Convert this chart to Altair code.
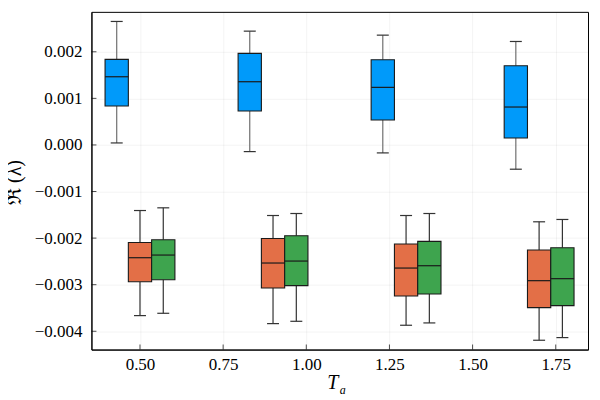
import altair as alt
import pandas as pd

# ---- data ----
Ta = [0.5, 0.9, 1.3, 1.7]
series = ["s1", "s2", "s3"]
fill_colors = ["#009AFA", "#E36F47", "#3EA44E"]
whisker_colors = ["#707070", "#333333", "#333333"]

# five-number summaries per series (lower whisker, q1, median, q3, upper whisker)
s1_lo = [0.0000429, -0.000143, -0.000171, -0.000521]
s1_q1 = [0.000836, 0.000729, 0.000536, 0.000150]
s1_med = [0.001464, 0.001357, 0.001236, 0.000814]
s1_q3 = [0.001836, 0.001965, 0.001829, 0.001700]
s1_hi = [0.002651, 0.002443, 0.002357, 0.002221]

s2_lo = [-0.003664, -0.003836, -0.003871, -0.004193]
s2_q1 = [-0.002936, -0.003071, -0.003243, -0.003493]
s2_med = [-0.002421, -0.002535, -0.002643, -0.002914]
s2_q3 = [-0.002093, -0.002007, -0.002128, -0.002257]
s2_hi = [-0.001408, -0.001515, -0.001515, -0.001650]

s3_lo = [-0.003614, -0.003786, -0.003821, -0.004136]
s3_q1 = [-0.002893, -0.003021, -0.003200, -0.003450]
s3_med = [-0.002364, -0.002493, -0.002593, -0.002871]
s3_q3 = [-0.002036, -0.001950, -0.002071, -0.002207]
s3_hi = [-0.001350, -0.001472, -0.001472, -0.001600]

y_ticks = [-0.004, -0.003, -0.002, -0.001, 0.0, 0.001, 0.002]
x_ticks = [0.5, 0.75, 1.0, 1.25, 1.5, 1.75]

x_title_main = ["T"]
x_title_sub = ["a"]
y_title = ["ℜ (λ)"]

# ---- build table ----
stats = {
    "s1": (s1_lo, s1_q1, s1_med, s1_q3, s1_hi),
    "s2": (s2_lo, s2_q1, s2_med, s2_q3, s2_hi),
    "s3": (s3_lo, s3_q1, s3_med, s3_q3, s3_hi),
}
rows = []
for k, s in enumerate(series):
    lo, q1, med, q3, hi = stats[s]
    for i, t in enumerate(Ta):
        rows.append(dict(series=s, idx=k, Ta=t, lo=lo[i], q1=q1[i],
                         med=med[i], q3=q3[i], hi=hi[i]))
df = pd.DataFrame(rows)

DODGE = 0.07
HALF_BOX = 0.035
HALF_CAP = 0.018

xs = alt.Scale(domain=[0.354, 1.847], nice=False, zero=False)
ys = alt.Scale(domain=[-0.004393, 0.002857], nice=False, zero=False)

FONT = "Liberation Serif"
W, H = 497, 338

base = alt.Chart(df).transform_calculate(
    xc=f"datum.Ta + (datum.idx - 1) * {DODGE}",
).transform_calculate(
    xl=f"datum.xc - {HALF_BOX}",
    xr=f"datum.xc + {HALF_BOX}",
    cl=f"datum.xc - {HALF_CAP}",
    cr=f"datum.xc + {HALF_CAP}",
)

minus_label = "(datum.value < -1e-9 ? '\u2212' : '') + format(abs(datum.value), '.3f')"
xaxis = alt.Axis(values=x_ticks, format=".2f", title=None, ticks=False,
                 labelPadding=6.5)
yaxis = alt.Axis(values=y_ticks, format=".3f", title=None, ticks=False,
                 labelPadding=9.5, labelExpr=minus_label)

stroke_enc = alt.Stroke("series:N", scale=alt.Scale(domain=series, range=whisker_colors), legend=None)

whisk_lo = base.mark_rule(strokeWidth=1.2).encode(
    x=alt.X("xc:Q", scale=xs, axis=xaxis),
    y=alt.Y("lo:Q", scale=ys, axis=yaxis),
    y2="q1:Q",
    stroke=stroke_enc,
)
whisk_hi = base.mark_rule(strokeWidth=1.2).encode(
    x=alt.X("xc:Q", scale=xs),
    y=alt.Y("q3:Q", scale=ys),
    y2="hi:Q",
    stroke=stroke_enc,
)
cap_lo = base.mark_rule(strokeWidth=1.2, color="#333333").encode(
    x=alt.X("cl:Q", scale=xs), x2="cr:Q", y=alt.Y("lo:Q", scale=ys))
cap_hi = base.mark_rule(strokeWidth=1.2, color="#333333").encode(
    x=alt.X("cl:Q", scale=xs), x2="cr:Q", y=alt.Y("hi:Q", scale=ys))

box = base.mark_rect(stroke="#1a1a1a", strokeWidth=1.1).encode(
    x=alt.X("xl:Q", scale=xs), x2="xr:Q",
    y=alt.Y("q1:Q", scale=ys), y2="q3:Q",
    fill=alt.Fill("series:N", scale=alt.Scale(domain=series, range=fill_colors), legend=None),
)
median = base.mark_rule(strokeWidth=1.2, color="#1a1a1a").encode(
    x=alt.X("xl:Q", scale=xs), x2="xr:Q", y=alt.Y("med:Q", scale=ys))

ytick_df = pd.DataFrame({"v": y_ticks})
xtick_df = pd.DataFrame({"v": x_ticks})
yt = alt.Chart(ytick_df).mark_tick(orient="horizontal", size=5, thickness=1, color="#000").encode(
    y=alt.Y("v:Q", scale=ys), x=alt.value(2.5))
xt = alt.Chart(xtick_df).mark_tick(orient="vertical", size=5, thickness=1, color="#000").encode(
    x=alt.X("v:Q", scale=xs), y=alt.value(H - 2.5))

xt_main = alt.Chart(pd.DataFrame({"t": x_title_main})).mark_text(
    font=FONT, fontSize=20, fontStyle="italic", align="left", baseline="alphabetic", color="#000"
).encode(text="t:N", x=alt.value(236), y=alt.value(377.3))
xt_sub = alt.Chart(pd.DataFrame({"t": x_title_sub})).mark_text(
    font=FONT, fontSize=12, fontStyle="italic", align="left", baseline="alphabetic", color="#000"
).encode(text="t:N", x=alt.value(248.5), y=alt.value(382.3))
yt_title = alt.Chart(pd.DataFrame({"t": y_title})).mark_text(
    font=FONT, fontSize=20, angle=270, align="center", baseline="middle", color="#000"
).encode(text="t:N", x=alt.value(-76), y=alt.value(170.8))

chart = alt.layer(whisk_lo, whisk_hi, cap_lo, cap_hi, box, median, yt, xt,
                  xt_main, xt_sub, yt_title).properties(
    width=W, height=H,
    autosize="none",
    padding={"left": 83.5, "top": 3.7, "right": 4, "bottom": 50},
).configure_view(
    stroke="#000", strokeWidth=1
).configure_axis(
    domainColor="#000", domainWidth=1,
    gridColor="#000", gridOpacity=0.1, gridWidth=0.5,
    labelFont=FONT, labelFontSize=17, labelColor="#000",
)

chart.save("out.html", embed_options={"renderer": "svg", "actions": False})
